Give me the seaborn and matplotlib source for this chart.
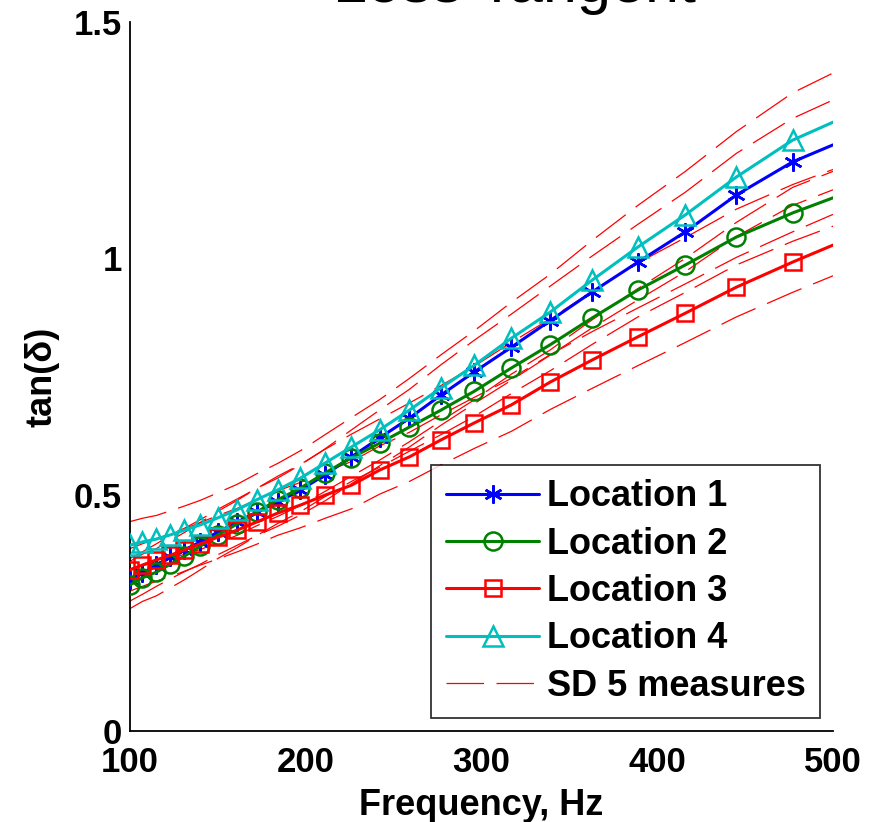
import numpy as np
import pandas as pd
import seaborn as sns
import matplotlib
matplotlib.use("Agg")
import matplotlib.pyplot as plt

# ---- data ----
freq = [100, 107, 115, 123, 131, 140, 150, 161, 172, 184, 197, 211, 226,
        242, 259, 277, 296, 317, 339, 363, 389, 416, 445, 477, 500]

loc1 = [0.320, 0.334, 0.351, 0.368, 0.383, 0.400, 0.421, 0.442, 0.463, 0.484,
        0.510, 0.542, 0.580, 0.620, 0.662, 0.711, 0.760, 0.812, 0.868, 0.929,
        0.992, 1.056, 1.134, 1.204, 1.240]
loc2 = [0.309, 0.324, 0.336, 0.353, 0.370, 0.391, 0.415, 0.438, 0.463, 0.489,
        0.514, 0.546, 0.578, 0.609, 0.643, 0.679, 0.719, 0.768, 0.817, 0.874,
        0.933, 0.986, 1.045, 1.096, 1.128]
loc3 = [0.341, 0.351, 0.362, 0.372, 0.383, 0.396, 0.410, 0.425, 0.442, 0.461,
        0.478, 0.499, 0.520, 0.552, 0.580, 0.616, 0.652, 0.690, 0.738, 0.785,
        0.834, 0.884, 0.939, 0.992, 1.028]
loc4 = [0.393, 0.400, 0.406, 0.415, 0.425, 0.436, 0.451, 0.468, 0.489, 0.510,
        0.535, 0.567, 0.601, 0.637, 0.679, 0.726, 0.774, 0.831, 0.886, 0.954,
        1.024, 1.092, 1.172, 1.250, 1.288]

sd1 = [0.045, 0.045, 0.045, 0.046, 0.046, 0.047, 0.048, 0.049, 0.050, 0.051,
       0.053, 0.055, 0.057, 0.059, 0.061, 0.064, 0.067, 0.070, 0.073, 0.076,
       0.080, 0.084, 0.088, 0.092, 0.095]
sd2 = [0.050, 0.050, 0.050, 0.050, 0.050, 0.050, 0.050, 0.050, 0.050, 0.050,
       0.050, 0.050, 0.050, 0.051, 0.051, 0.052, 0.053, 0.054, 0.055, 0.056,
       0.057, 0.058, 0.059, 0.060, 0.060]
sd3 = [0.045, 0.045, 0.045, 0.045, 0.045, 0.045, 0.046, 0.046, 0.047, 0.047,
       0.048, 0.049, 0.050, 0.051, 0.052, 0.053, 0.054, 0.056, 0.058, 0.060,
       0.061, 0.062, 0.063, 0.064, 0.065]
sd4 = [0.050, 0.050, 0.050, 0.051, 0.051, 0.052, 0.053, 0.054, 0.055, 0.056,
       0.058, 0.060, 0.062, 0.064, 0.067, 0.070, 0.073, 0.076, 0.080, 0.084,
       0.088, 0.092, 0.096, 0.100, 0.104]

labels = ["Location 1", "Location 2", "Location 3", "Location 4"]
means = [loc1, loc2, loc3, loc4]
sds = [sd1, sd2, sd3, sd4]
colors = ["#0000ff", "#008000", "#ff0000", "#00bfbf"]
markers = [(6, 2, 0), "o", "s", "^"]
msizes = [13, 13, 12, 15]

xticks = [100, 200, 300, 400, 500]
yticks = [0, 0.5, 1, 1.5]
ytick_labels = ["0", "0.5", "1", "1.5"]

# ---- style ----
sns.set_theme(style="white")
plt.rcParams["font.family"] = ["Liberation Sans", "DejaVu Sans"]
plt.rcParams["text.color"] = "black"
plt.rcParams["axes.labelcolor"] = "black"
plt.rcParams["xtick.color"] = "black"
plt.rcParams["ytick.color"] = "black"

fig = plt.figure(figsize=(8.8, 8.22), dpi=100)
ax = fig.add_axes([130 / 880, 91 / 822, 703 / 880, 709 / 822])

n_mark = len(freq) - 1
for lab, m, sd, c, mk, ms in zip(labels, means, sds, colors, markers, msizes):
    df = pd.DataFrame({"f": freq, "v": m})
    sns.lineplot(data=df, x="f", y="v", ax=ax, color=c, lw=2.2,
                 marker=mk, markersize=ms, markerfacecolor="none",
                 markeredgecolor=c, markeredgewidth=1.8,
                 markevery=list(range(n_mark)), label=lab, zorder=3)

first = True
for m, sd in zip(means, sds):
    mv = np.array(m)
    sv = np.array(sd)
    for bound in (mv + sv, mv - sv):
        dfb = pd.DataFrame({"f": freq, "v": bound})
        sns.lineplot(data=dfb, x="f", y="v", ax=ax, color="#ff0000", lw=0.9,
                     dashes=False, label="SD 5 measures" if first else None,
                     zorder=2)
        ax.lines[-1].set_linestyle((0, (30, 10)))
        first = False

ax.set_xlim(100, 500)
ax.set_ylim(0, 1.5)
ax.set_xticks(xticks)
ax.set_xticklabels([str(t) for t in xticks])
ax.set_yticks(yticks)
ax.set_yticklabels(ytick_labels)
for s in ["top", "right"]:
    ax.spines[s].set_visible(False)
for s in ["left", "bottom"]:
    ax.spines[s].set_color("black")
    ax.spines[s].set_linewidth(1.3)
ax.tick_params(axis="both", direction="in", length=7, width=1.3,
               colors="black", labelsize=25, pad=6)
ax.tick_params(axis="x", pad=11)
for t in ax.get_xticklabels() + ax.get_yticklabels():
    t.set_fontweight("bold")

ax.set_xlabel("Frequency, Hz", fontsize=26, fontweight="bold", labelpad=6)
ax.set_ylabel("tan(δ)", fontsize=26, fontweight="bold", labelpad=10)

fig.text(514 / 880, 1 - 2 / 822, "Loss Tangent", fontsize=44,
         ha="center", va="baseline")

leg = ax.legend(loc="lower right", bbox_to_anchor=(690 / 703, 13 / 709),
                borderaxespad=0, fontsize=26, frameon=True, fancybox=False,
                handlelength=2.6, handletextpad=0.2, labelspacing=0.34,
                borderpad=0.4)
leg.get_frame().set_edgecolor("black")
leg.get_frame().set_linewidth(1.3)
for t in leg.get_texts():
    t.set_fontweight("bold")

fig.savefig("out.png", dpi=100)
